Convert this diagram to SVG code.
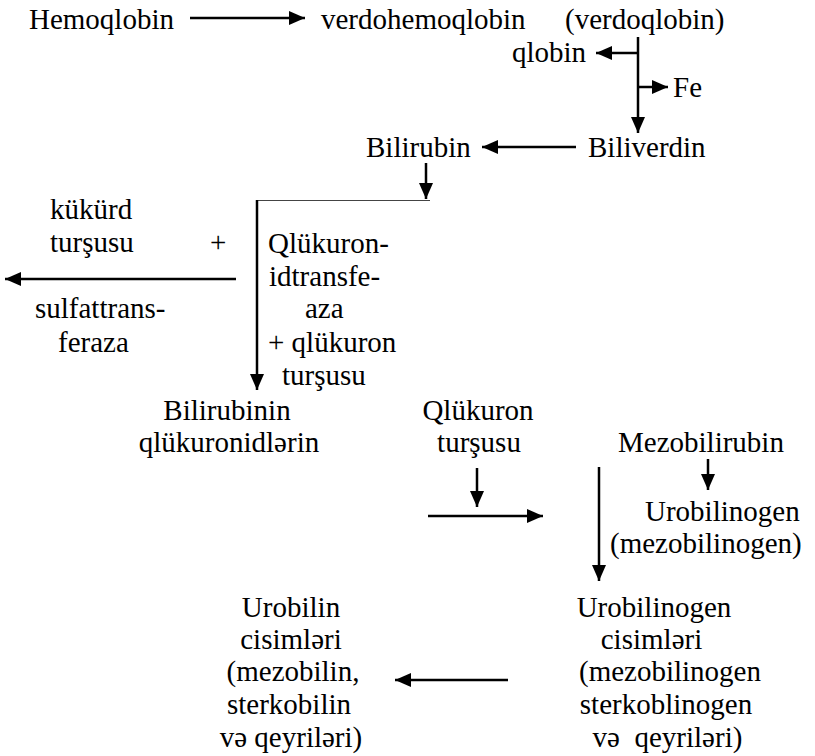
<svg xmlns="http://www.w3.org/2000/svg" width="815" height="756" viewBox="0 0 815 756">
<style>
.a{fill:none;stroke:#000;stroke-width:2.5;marker-end:url(#ah)}
.t{fill:none;stroke:#444;stroke-width:1}
</style>
<defs>
<marker id="ah" markerUnits="userSpaceOnUse" markerWidth="16" markerHeight="14" refX="16" refY="7" orient="auto">
<path d="M0,0 L16,7 L0,14 z" fill="#000"/>
</marker>
</defs>
<rect width="815" height="756" fill="#fff"/>
<g id="connectors">
<path class="a" d="M190,18 H305"/>
<path class="a" d="M638,37 V133"/>
<path class="a" d="M637,53 H596"/>
<path class="a" d="M638,87 H668"/>
<path class="a" d="M576,147 H482"/>
<path class="a" d="M426,163 V199"/>
<path class="t" d="M257,200.5 H430"/>
<path class="a" d="M257,200 V390"/>
<path class="a" d="M236,279 H5"/>
<path class="a" d="M477,468 V507"/>
<path class="a" d="M428,516 H543"/>
<path class="a" d="M599,467 V581"/>
<path class="a" d="M708,459 V490"/>
<path class="a" d="M508,680 H395"/>
</g>
<g font-family="Liberation Serif, Times New Roman, serif" font-size="29" fill="#000">
<g id="hemoqlobin"><text x="29" y="29">Hemoqlobin</text></g>
<g id="verdohemoqlobin"><text x="321" y="29">verdohemoqlobin</text><text x="565" y="29">(verdoqlobin)</text></g>
<g id="qlobin"><text x="512" y="62">qlobin</text></g>
<g id="fe"><text x="673" y="97">Fe</text></g>
<g id="bilirubin"><text x="366" y="157">Bilirubin</text></g>
<g id="biliverdin"><text x="588" y="157">Biliverdin</text></g>
<g id="sulfat">
<text x="50" y="219">kükürd</text>
<text x="50" y="252">turşusu</text>
<text x="210" y="252">+</text>
<text x="35" y="318">sulfattrans-</text>
<text x="58" y="352">feraza</text>
</g>
<g id="qlukuronidtransferaza">
<text x="268" y="253">Qlükuron-</text>
<text x="269" y="286">idtransfe-</text>
<text x="305" y="318">aza</text>
<text x="268" y="352">+ qlükuron</text>
<text x="282" y="385">turşusu</text>
</g>
<g id="bilirubinin" text-anchor="middle">
<text x="227" y="420">Bilirubinin</text>
<text x="229" y="452">qlükuronidlərin</text>
</g>
<g id="qlukuron-tursusu" text-anchor="middle">
<text x="478" y="420">Qlükuron</text>
<text x="479" y="452">turşusu</text>
</g>
<g id="mezobilirubin"><text x="618" y="452">Mezobilirubin</text></g>
<g id="urobilinogen">
<text x="645" y="521">Urobilinogen</text>
<text x="610" y="553">(mezobilinogen)</text>
</g>
<g id="urobilinogen-cisimleri" text-anchor="middle">
<text x="654" y="617">Urobilinogen</text>
<text x="651.5" y="649">cisimləri</text>
<text x="670" y="681">(mezobilinogen</text>
<text x="666" y="714">sterkoblinogen</text>
<text x="667.5" y="747">və&#160; qeyriləri)</text>
</g>
<g id="urobilin-cisimleri" text-anchor="middle">
<text x="291" y="617">Urobilin</text>
<text x="291" y="649">cisimləri</text>
<text x="293" y="681">(mezobilin,</text>
<text x="289" y="714">sterkobilin</text>
<text x="291" y="747">və qeyriləri)</text>
</g>
</g>
</svg>
